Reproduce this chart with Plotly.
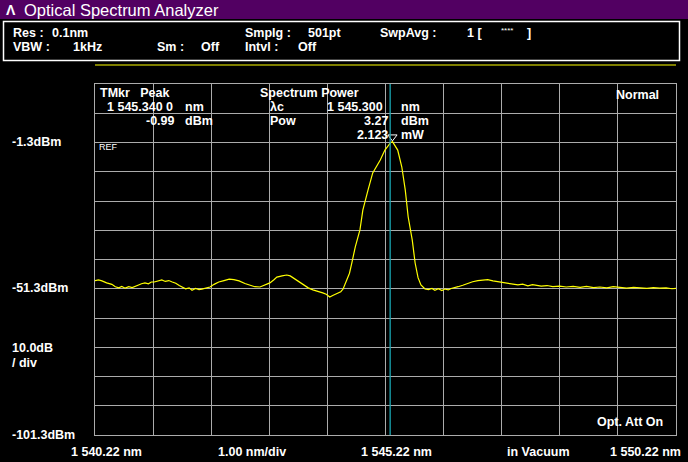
import plotly.graph_objects as go

# ---------------- data ----------------
wavelength_nm = [
    1540.22, 1540.28, 1540.34, 1540.42, 1540.51, 1540.57, 1540.63, 1540.68, 1540.74, 1540.80,
    1540.86, 1540.91, 1540.97, 1541.02, 1541.08, 1541.14, 1541.19, 1541.24, 1541.30, 1541.37,
    1541.43, 1541.49, 1541.55, 1541.61, 1541.67, 1541.72, 1541.78, 1541.84, 1541.89, 1541.95,
    1542.01, 1542.06, 1542.12, 1542.20, 1542.27, 1542.35, 1542.44, 1542.53, 1542.61, 1542.70,
    1542.80, 1542.89, 1542.97, 1543.06, 1543.14, 1543.23, 1543.30, 1543.35, 1543.44, 1543.52,
    1543.58, 1543.63, 1543.72, 1543.80, 1543.89, 1543.97, 1544.05, 1544.14, 1544.20, 1544.26,
    1544.32, 1544.39, 1544.45, 1544.49, 1544.56, 1544.60, 1544.64, 1544.70, 1544.78, 1544.83,
    1544.92, 1545.00, 1545.13, 1545.21, 1545.30, 1545.34, 1545.43, 1545.50, 1545.56, 1545.61,
    1545.68, 1545.73, 1545.78, 1545.83, 1545.90, 1545.96, 1546.02, 1546.07, 1546.13, 1546.19,
    1546.24, 1546.30, 1546.35, 1546.41, 1546.47, 1546.55, 1546.64, 1546.72, 1546.81, 1546.90,
    1546.98, 1547.07, 1547.16, 1547.24, 1547.33, 1547.41, 1547.50, 1547.58, 1547.67, 1547.75,
    1547.81, 1547.90, 1548.00, 1548.10, 1548.22, 1548.33, 1548.45, 1548.57, 1548.68, 1548.80,
    1548.91, 1549.03, 1549.14, 1549.26, 1549.37, 1549.49, 1549.60, 1549.72, 1549.83, 1549.94,
    1550.05, 1550.15, 1550.22,
]
power_dbm = [
    -48.5, -48.3, -48.6, -49.3, -49.8, -50.6, -51.0, -50.5, -51.1, -50.6,
    -50.9, -50.4, -50.0, -49.6, -49.3, -49.6, -49.0, -49.0, -48.6, -48.3,
    -48.8, -48.5, -49.0, -49.4, -50.2, -50.7, -51.3, -51.0, -51.8, -51.2,
    -51.6, -51.4, -51.0, -50.7, -49.8, -49.0, -48.5, -48.0, -48.2, -48.6,
    -49.5, -50.0, -50.6, -50.7, -50.0, -49.3, -48.2, -47.3, -46.9, -46.6,
    -46.9, -47.6, -48.9, -50.0, -51.0, -51.7, -52.1, -52.7, -53.2, -54.1,
    -53.5, -53.0, -52.3, -51.4, -48.3, -46.0, -42.5, -37.0, -31.2, -24.4,
    -17.5, -11.7, -7.3, -3.9, -1.5, -0.99, -3.9, -9.6, -17.5, -26.7,
    -34.6, -42.5, -47.5, -50.0, -51.4, -51.6, -51.2, -51.8, -51.3, -51.9,
    -51.4, -51.7, -51.2, -51.0, -50.6, -50.1, -49.4, -48.9, -48.5, -48.3,
    -48.2, -48.6, -48.9, -49.3, -49.4, -49.8, -50.0, -49.7, -50.3, -49.9,
    -50.1, -50.4, -50.2, -50.6, -50.4, -50.7, -50.5, -50.8, -50.5, -50.9,
    -50.7, -51.0, -50.6, -50.9, -51.1, -50.8, -51.0, -51.2, -50.9, -51.1,
    -51.0, -51.3, -51.2,
]

x_start, x_stop, x_div = 1540.22, 1550.22, 1.00
y_ref, y_div, y_ndiv = -1.3, 10.0, 12
y_top = y_ref + 2 * y_div
y_bottom = y_top - y_ndiv * y_div

peak_wl, peak_dbm = 1545.340, -0.99
center_wl = 1545.300

# ---------------- layout helpers (pixel -> paper) ----------------
W, H = 688, 462
PL, PR, PT, PB = 95, 676, 84, 435


def px(x):
    return (x - PL) / (PR - PL)


def py(y):
    return (PB - y) / (PB - PT)


FONT = "Liberation Sans, Arial, sans-serif"
WHITE = "#ffffff"
GRID = "#acacac"

fig = go.Figure()
fig.add_trace(go.Scatter(
    x=wavelength_nm, y=power_dbm, mode="lines",
    line=dict(color="#ffff00", width=1.2), hoverinfo="skip", showlegend=False,
))
fig.add_trace(go.Scatter(
    x=[peak_wl], y=[peak_dbm + 1.6], mode="markers",
    marker=dict(symbol="triangle-down-open", size=8, color=WHITE, line=dict(width=1, color=WHITE)),
    hoverinfo="skip", showlegend=False,
))

shapes = [
    # title bar
    dict(type="rect", xref="paper", yref="paper", x0=px(0), x1=px(W), y0=py(0), y1=py(19),
         fillcolor="#520062", line=dict(width=0), layer="below"),
    # header box
    dict(type="rect", xref="paper", yref="paper", x0=px(3.5), x1=px(679.5), y0=py(21.5), y1=py(60.5),
         fillcolor="rgba(0,0,0,0)", line=dict(width=1.5, color=WHITE)),
    # yellow status line
    dict(type="line", xref="paper", yref="paper", x0=px(95), x1=px(676), y0=py(65), y1=py(65),
         line=dict(width=1, color="#ffff00")),
    # center wavelength marker line
    dict(type="line", xref="x", yref="paper", x0=center_wl, x1=center_wl, y0=0, y1=1,
         line=dict(width=1.3, color="#1aa8b4")),
]

annotations = []


def label(text, x, y, size=12.5, bold=True, anchor="left", color=WHITE):
    t = f"<b>{text}</b>" if bold else text
    annotations.append(dict(
        text=t, xref="paper", yref="paper", x=px(x), y=py(y), xanchor=anchor, yanchor="middle",
        showarrow=False, font=dict(family=FONT, size=size, color=color), borderpad=0,
    ))


# title
label("Λ", 5, 10, size=14, bold=True)
label("Optical Spectrum Analyzer", 23, 10, size=16.5, bold=False)
# header box content
label("Res :", 12, 33)
label("0.1nm", 51, 33)
label("VBW :", 12, 47)
label("1kHz", 72, 47)
label("Sm :", 156, 47)
label("Off", 200, 47)
label("Smplg :", 244, 33)
label("501pt", 307, 33)
label("Intvl :", 244, 47)
label("Off", 297, 47)
label("SwpAvg :", 379, 33)
label("1 [", 466, 33)
label("****", 500, 31, size=8, bold=False)
label("]", 526, 33)
# left axis labels
label("-1.3dBm", 11, 142)
label("-51.3dBm", 11, 288)
label("10.0dB", 11, 348)
label("/ div", 11, 363)
label("-101.3dBm", 11, 435)
# bottom labels
label("1 540.22 nm", 70, 452)
label("1.00 nm/div", 217, 452)
label("1 545.22 nm", 360, 452)
label("in Vacuum", 506, 452)
label("1 550.22 nm", 609, 452)
# in-plot labels
label("TMkr   Peak", 99, 93)
label("1 545.340 0", 106, 107)
label("nm", 184, 107)
label("-0.99", 176, 121, anchor="right")
label("dBm", 184, 121)
label("REF", 98, 147, size=9, bold=False)
label("Spectrum Power", 259, 93)
label("λc", 269, 107)
label("Pow", 269, 121)
label("1 545.300", 384, 107, anchor="right")
label("nm", 400, 107)
label("3.27", 389, 121, anchor="right")
label("dBm", 400, 121)
label("2.123", 389, 135, anchor="right")
label("mW", 400, 135)
label("Normal", 615, 95)
label("Opt. Att On", 596, 422)

fig.update_layout(
    width=W, height=H,
    margin=dict(l=PL, r=W - PR, t=PT, b=H - PB, pad=0),
    paper_bgcolor="#000000", plot_bgcolor="#000000",
    shapes=shapes, annotations=annotations, showlegend=False,
    xaxis=dict(range=[x_start, x_stop], tick0=x_start, dtick=x_div, showticklabels=False,
               ticks="", showgrid=True, gridcolor=GRID, gridwidth=1, zeroline=False,
               showline=True, mirror=True, linecolor=GRID, linewidth=1, fixedrange=True),
    yaxis=dict(range=[y_bottom, y_top], tick0=y_bottom, dtick=y_div, showticklabels=False,
               ticks="", showgrid=True, gridcolor=GRID, gridwidth=1, zeroline=False,
               showline=True, mirror=True, linecolor=GRID, linewidth=1, fixedrange=True),
)

fig.write_html("out.html", config={"displayModeBar": False})
